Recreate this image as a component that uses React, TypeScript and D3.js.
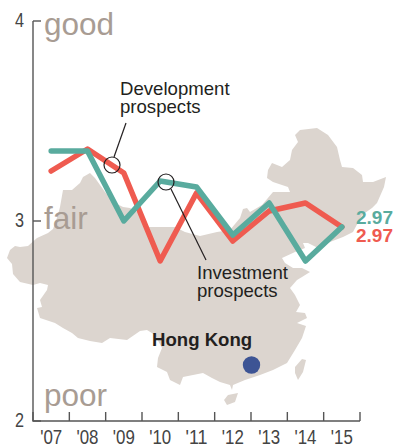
import React from "react";
import * as d3 from "d3";

const years = ["'07", "'08", "'09", "'10", "'11", "'12", "'13", "'14", "'15"];
const development = [3.25, 3.36, 3.24, 2.8, 3.14, 2.9, 3.05, 3.09, 2.97];
const investment = [3.35, 3.35, 3.0, 3.2, 3.17, 2.93, 3.09, 2.8, 2.97];
const yTicks = [2, 3, 4];

// Decorative backdrop outline, in pixels
const mainland: [number, number][] = [
  [7,258],[10,250],[15,246],[20,247],[28,246],[37,238],[48,233],[53,229],[58,215],[60,207],[63,190],[72,190],[80,183],[83,177],[90,173],[95,178],
  [105,192],[115,203],[123,207],[130,208],[137,212],[147,227],[175,227],[185,232],[200,236],[217,232],[230,230],[240,218],[243,209],[247,208],[250,212],
  [262,205],[273,192],[290,192],[288,187],[273,182],[267,178],[268,170],[272,163],[282,167],[290,160],[292,150],[298,142],[295,135],[300,130],[317,128],
  [328,135],[337,147],[340,160],[342,167],[353,168],[362,175],[363,182],[373,182],[386,177],[384,187],[377,203],[372,208],[362,215],[353,232],[343,237],
  [330,242],[318,248],[308,243],[303,243],[305,248],[295,252],[282,258],[285,263],[293,268],[302,268],[310,272],[302,277],[297,280],[290,288],[295,295],
  [300,305],[296,312],[305,313],[307,318],[297,323],[306,326],[302,338],[295,350],[287,363],[273,370],[260,375],[245,380],[233,385],[232,390],[230,385],
  [220,382],[212,378],[203,373],[193,375],[183,377],[180,385],[170,380],[167,372],[157,367],[158,358],[162,348],[155,335],[147,330],[140,331],[127,340],
  [110,338],[102,343],[90,341],[78,338],[72,333],[63,328],[55,323],[40,318],[37,308],[42,307],[40,300],[47,290],[48,285],[40,283],[33,285],[20,282],
  [13,274],[12,264],
];
const hainan: [number, number][] = [[224,400],[228,395],[238,393],[235,402],[227,405]];
const taiwan: [number, number][] = [[295,367],[302,359],[306,360],[303,372],[298,380],[295,373]];

const x = d3.scaleBand<string>().domain(years).range([33, 360]);
const y = d3.scaleLinear().domain([2, 4]).range([421, 21]);
const cx = (i: number) => (x(years[i]) as number) + x.bandwidth() / 2;
const line = d3.line<number>().x((_, i) => cx(i)).y((d) => y(d));
const outline = d3.line().curve(d3.curveLinearClosed);

const TEAL = "#59ab9e";
const RED = "#ef5b50";
const WORD = "#a89c93";
const INK = "#231f20";
const AXIS = "#555555";
const SANS = "'Liberation Sans', Arial, sans-serif";

export default function App() {
  return (
    <svg width={395} height={447} style={{ position: "absolute", left: 0, top: 0, display: "block" }} fontFamily={SANS}>
      <g fill="#dcd5cf">
        <path d={outline(mainland) as string} />
        <path d={outline(hainan) as string} />
        <path d={outline(taiwan) as string} />
      </g>
      <g fill={WORD} fontSize={31.5}>
        <text x={44} y={35}>good</text>
        <text x={44} y={229}>fair</text>
        <text x={44} y={406}>poor</text>
      </g>
      <g stroke={AXIS} strokeWidth={1.4} fill="none">
        <path d={`M${x.range()[0]},${y(4)}V${y(2)}H${x.range()[1]}`} />
        {yTicks.map((t) => (
          <line key={t} x1={33} x2={41} y1={y(t)} y2={y(t)} />
        ))}
        {years.map((yr) => (
          <line key={yr} x1={x(yr)} x2={x(yr)} y1={y(2)} y2={y(2) - 9} />
        ))}
        <line x1={360} x2={360} y1={y(2)} y2={y(2) - 9} />
      </g>
      <g fill="#444" fontSize={20.5}>
        {yTicks.map((t) => (
          <text key={t} x={15} y={y(t) + 6} textLength={9} lengthAdjust="spacingAndGlyphs">{t}</text>
        ))}
        {years.map((yr, i) => (
          <text key={yr} x={cx(i) - 11} y={444} textLength={22} lengthAdjust="spacingAndGlyphs">{yr}</text>
        ))}
      </g>
      <g fill="none" strokeWidth={5.5} strokeLinejoin="round" strokeLinecap="round">
        <path d={line(development) as string} stroke={RED} />
        <path d={line(investment) as string} stroke={TEAL} />
      </g>
      <g fill="none" stroke={INK} strokeWidth={1.2}>
        <circle cx={112} cy={165} r={8} />
        <circle cx={166} cy={182} r={8} />
        <line x1={126} y1={123} x2={114} y2={157} />
        <line x1={171} y1={189} x2={206} y2={260} />
      </g>
      <g fill={INK} fontSize={18.6}>
        <text x={120} y={95}>Development</text>
        <text x={120} y={113}>prospects</text>
        <text x={197} y={279}>Investment</text>
        <text x={197} y={297}>prospects</text>
        <text x={152} y={346} fontWeight="bold">Hong Kong</text>
      </g>
      <circle cx={251.5} cy={365} r={8.7} fill="#3d5494" />
      <g fontSize={19} fontWeight="bold">
        <text x={356} y={224} fill={TEAL}>2.97</text>
        <text x={356} y={242} fill={RED}>2.97</text>
      </g>
    </svg>
  );
}
